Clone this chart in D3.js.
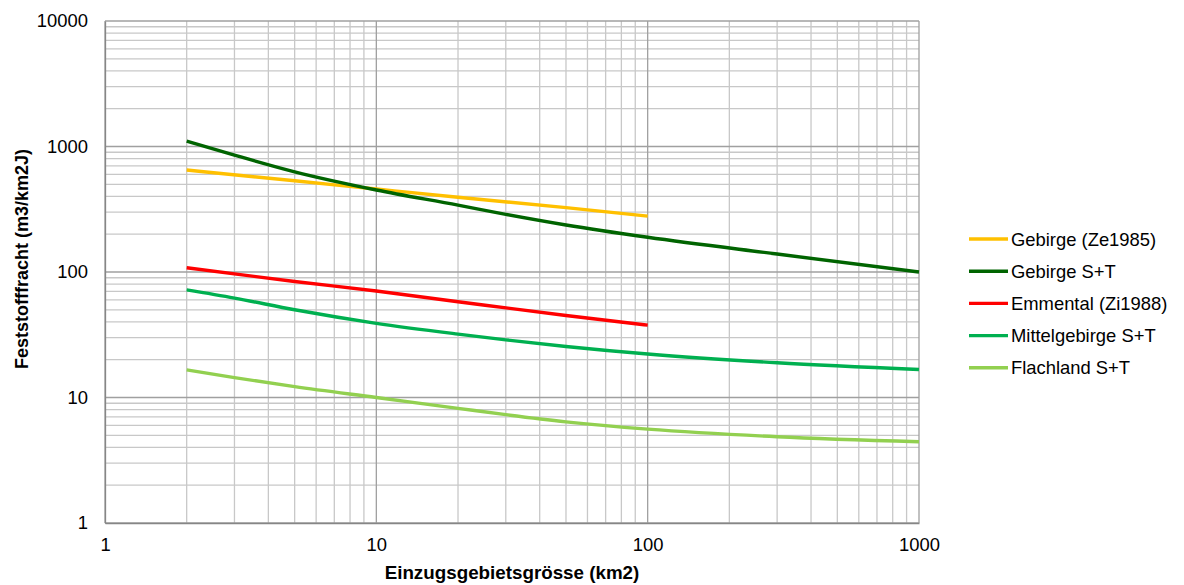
<!DOCTYPE html>
<html>
<head>
<meta charset="utf-8">
<script src="https://cdn.jsdelivr.net/npm/d3@7"></script>
<style>
  body { margin: 0; background: #fff; }
  svg text { font-family: "Liberation Sans", Arial, sans-serif; fill: #000; }
</style>
</head>
<body>
<div id="chart"></div>
<script>
// Chart size and plot area
var width = 1184;
var height = 585;
var margin = {top: 21, right: 265, bottom: 62, left: 105};

// Tick labels
var xTicks = [1, 10, 100, 1000];
var yTicks = [1, 10, 100, 1000, 10000];

// Series names and colours
var names = ["Gebirge (Ze1985)", "Gebirge S+T", "Emmental (Zi1988)", "Mittelgebirge S+T", "Flachland S+T"];
var colors = ["#FFC000", "#006400", "#FF0000", "#00B050", "#92D050"];

// Catchment area (km2) and sediment load (m3/km2J)
var areaShort = [2, 5, 10, 20, 50, 100];
var areaLong = [2, 3, 5, 10, 20, 30, 50, 100, 300, 1000];
var gebirgeZe = [649, 533, 458, 394, 326, 279];
var gebirgeST = [1104, 853, 628, 450, 341, 288, 237, 189, 139, 100];
var emmental = [108, 84, 70.5, 58, 45, 37.7];
var mittelST = [72, 62, 50, 39, 32, 28.8, 25.5, 22.2, 18.9, 16.7];
var flachST = [16.6, 14.4, 12.2, 10, 8.2, 7.3, 6.4, 5.6, 4.87, 4.44];

var seriesX = [areaShort, areaLong, areaShort, areaLong, areaLong];
var seriesY = [gebirgeZe, gebirgeST, emmental, mittelST, flachST];

var x = d3.scaleLog().domain([1, 1000]).range([margin.left, width - margin.right]);
var y = d3.scaleLog().domain([1, 10000]).range([height - margin.bottom, margin.top]);

var svg = d3.select("#chart").append("svg")
  .attr("width", width).attr("height", height);

// minor grid values (2..9 in each decade)
var xMinor = [], yMinor = [];
for (var d = 1; d < 1000; d *= 10) for (var k = 2; k <= 9; k++) xMinor.push(d * k);
for (var d = 1; d < 10000; d *= 10) for (var k = 2; k <= 9; k++) yMinor.push(d * k);

var grid = svg.append("g");
grid.selectAll(".xminor").data(xMinor).enter().append("line")
  .attr("x1", d => x(d)).attr("x2", d => x(d))
  .attr("y1", y(1)).attr("y2", y(10000))
  .attr("stroke", "#c8c8c8").attr("stroke-width", 1.3);
grid.selectAll(".yminor").data(yMinor).enter().append("line")
  .attr("y1", d => y(d)).attr("y2", d => y(d))
  .attr("x1", x(1)).attr("x2", x(1000))
  .attr("stroke", "#c8c8c8").attr("stroke-width", 1.3);
grid.selectAll(".xmajor").data(xTicks).enter().append("line")
  .attr("x1", d => x(d)).attr("x2", d => x(d))
  .attr("y1", y(1)).attr("y2", y(10000))
  .attr("stroke", "#a0a0a0").attr("stroke-width", 1.3);
grid.selectAll(".ymajor").data(yTicks).enter().append("line")
  .attr("y1", d => y(d)).attr("y2", d => y(d))
  .attr("x1", x(1)).attr("x2", x(1000))
  .attr("stroke", "#a0a0a0").attr("stroke-width", 1.3);

// axes (labels only, Excel style)
var xAxis = svg.append("g")
  .attr("transform", "translate(0," + (height - margin.bottom) + ")")
  .call(d3.axisBottom(x).tickValues(xTicks).tickFormat(d3.format("d")).tickSize(0).tickPadding(15));
xAxis.select(".domain").attr("stroke", "#868686").attr("stroke-width", 1.3);
xAxis.selectAll("text").style("font-size", "18.4px");

var yAxis = svg.append("g")
  .attr("transform", "translate(" + margin.left + ",0)")
  .call(d3.axisLeft(y).tickValues(yTicks).tickFormat(d3.format("d")).tickSize(0).tickPadding(17));
yAxis.select(".domain").attr("stroke", "#868686").attr("stroke-width", 1.3);
yAxis.selectAll("text").style("font-size", "18.4px");

// series lines
var line = d3.line().curve(d3.curveMonotoneX);
seriesY.forEach(function(vals, i){
  var pts = vals.map(function(v, j){ return [x(seriesX[i][j]), y(v)]; });
  svg.append("path")
    .attr("d", line(pts))
    .attr("fill", "none")
    .attr("stroke", colors[i])
    .attr("stroke-width", 3.4);
});

// axis titles
svg.append("text")
  .attr("x", (x(1) + x(1000)) / 2).attr("y", 579)
  .attr("text-anchor", "middle")
  .style("font-size", "18.8px").style("font-weight", "bold")
  .text("Einzugsgebietsgrösse (km2)");
svg.append("text")
  .attr("transform", "translate(28,259) rotate(-90)")
  .attr("text-anchor", "middle")
  .style("font-size", "18px").style("font-weight", "bold")
  .text("Feststofffracht (m3/km2J)");

// legend
var legend = svg.append("g").attr("transform", "translate(969,239)");
names.forEach(function(name, i){
  var g = legend.append("g").attr("transform", "translate(0," + (i * 32.2) + ")");
  g.append("line").attr("x1", 0).attr("x2", 39).attr("y1", 0).attr("y2", 0)
    .attr("stroke", colors[i]).attr("stroke-width", 3.4);
  g.append("text").attr("x", 42).attr("y", 6.5)
    .style("font-size", "18.4px").text(name);
});
</script>
</body>
</html>
